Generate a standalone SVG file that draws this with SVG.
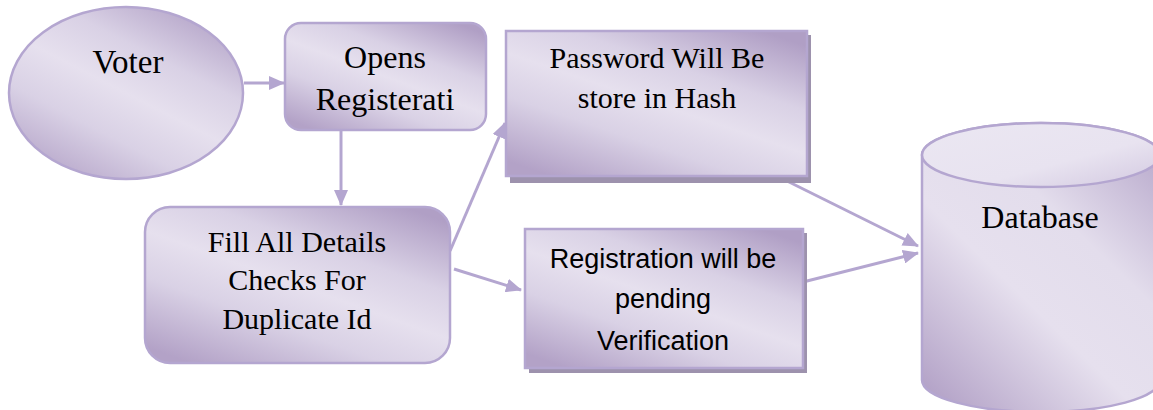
<svg xmlns="http://www.w3.org/2000/svg" width="1153" height="410" viewBox="0 0 1153 410">
<style>
.serif{font-family:"Liberation Serif","Times New Roman",serif;fill:#000;text-anchor:middle}
.sans{font-family:"Liberation Sans",Arial,sans-serif;fill:#000;text-anchor:middle}
.shape{fill:url(#g);stroke:#b4a6d0;stroke-width:2.5}
.conn{stroke:#b4a6d0;stroke-width:3;fill:none;marker-end:url(#arr)}
.shadow{fill:#9d92ad}
</style>
<defs>
<linearGradient id="g" x1="0.85" y1="0" x2="0.15" y2="1">
<stop offset="0" stop-color="#b09fc5"/>
<stop offset="0.3" stop-color="#d9d1e5"/>
<stop offset="0.5" stop-color="#e6e0ee"/>
<stop offset="0.7" stop-color="#d9d1e5"/>
<stop offset="1" stop-color="#b3a2c7"/>
</linearGradient>
<linearGradient id="gc" x1="0.9" y1="0" x2="0.1" y2="1">
<stop offset="0" stop-color="#b7a8cb"/>
<stop offset="0.35" stop-color="#e3ddec"/>
<stop offset="0.6" stop-color="#e6e0ee"/>
<stop offset="1" stop-color="#b3a2c7"/>
</linearGradient>
<linearGradient id="gt" x1="0" y1="0" x2="1" y2="1">
<stop offset="0" stop-color="#ebe7f2"/>
<stop offset="0.6" stop-color="#e8e3f0"/>
<stop offset="1" stop-color="#d2c8e0"/>
</linearGradient>
<marker id="arr" markerUnits="userSpaceOnUse" markerWidth="16" markerHeight="14" refX="15" refY="7" orient="auto">
<path d="M0,0 L16,7 L0,14 Z" fill="#b4a6d0"/>
</marker>
</defs>
<g id="connectors">
<line class="conn" x1="244" y1="83" x2="284" y2="83"/>
<line class="conn" x1="341" y1="131" x2="341" y2="205"/>
<line class="conn" x1="450" y1="251" x2="505" y2="123"/>
<line class="conn" x1="454" y1="269" x2="521" y2="290"/>
<line class="conn" x1="781" y1="178" x2="918" y2="246"/>
<line class="conn" x1="803" y1="282" x2="918" y2="253"/>
</g>
<g id="voter">
<ellipse class="shape" cx="126" cy="93" rx="117" ry="86"/>
<text class="serif" x="128" y="73" font-size="33">Voter</text>
</g>
<g id="opens">
<rect class="shape" x="285" y="23" width="201" height="107" rx="16"/>
<text class="serif" x="385" y="68" font-size="32">Opens</text>
<text class="serif" x="385" y="110" font-size="32">Registerati</text>
</g>
<g id="password">
<rect class="shadow" x="510" y="35" width="301" height="148"/>
<rect class="shape" x="506" y="31" width="301" height="145" stroke-width="2"/>
<text class="serif" x="657" y="68" font-size="30">Password Will Be</text>
<text class="serif" x="657" y="108" font-size="30">store in Hash</text>
</g>
<g id="fill">
<rect class="shape" x="145" y="207" width="305" height="156" rx="25"/>
<text class="serif" x="297" y="252" font-size="30">Fill All Details</text>
<text class="serif" x="297" y="290" font-size="30">Checks For</text>
<text class="serif" x="297" y="329" font-size="30">Duplicate Id</text>
</g>
<g id="registration">
<rect class="shadow" x="529" y="233" width="278" height="140"/>
<rect class="shape" x="525" y="229" width="278" height="139" stroke-width="2"/>
<text class="sans" x="663" y="268" font-size="27">Registration will be</text>
<text class="sans" x="663" y="308" font-size="27">pending</text>
<text class="sans" x="663" y="350" font-size="27">Verification</text>
</g>
<g id="database">
<path d="M922,155 L922,380 A119,32 0 0 0 1160,380 L1160,155 A119,32 0 0 0 922,155 Z" fill="url(#gc)" stroke="#b4a6d0" stroke-width="2.5"/>
<ellipse cx="1041" cy="155" rx="119" ry="32" fill="url(#gt)" stroke="#b4a6d0" stroke-width="2.5"/>
<text class="serif" x="1040" y="228" font-size="32">Database</text>
</g>
</svg>
